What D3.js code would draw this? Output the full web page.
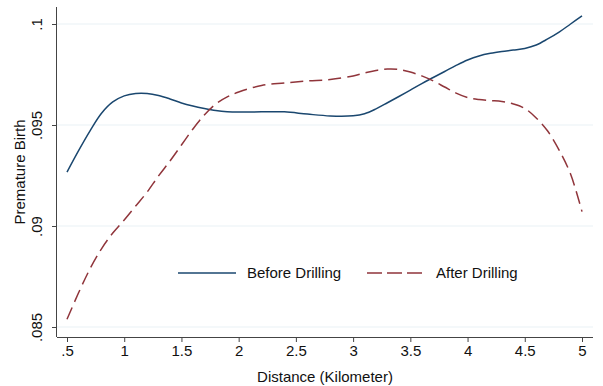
<!DOCTYPE html>
<html>
<head>
<meta charset="utf-8">
<script src="https://cdn.jsdelivr.net/npm/d3@7"></script>
<style>
  body { margin: 0; background: #fff; }
  text { font-family: "Liberation Sans", Arial, sans-serif; fill: #111; }
</style>
</head>
<body>
<div id="chart"></div>
<script>
// distance grid (km)
const distance = [0.5, 0.6, 0.7, 0.8, 0.9, 1.0, 1.1, 1.2, 1.3, 1.4, 1.5, 1.6, 1.7, 1.8, 1.9, 2.0,
  2.2, 2.4, 2.6, 2.8, 3.0, 3.1, 3.2, 3.3, 3.4, 3.5, 3.6, 3.7, 3.8, 3.9, 4.0,
  4.1, 4.2, 4.3, 4.4, 4.5, 4.6, 4.7, 4.8, 4.9, 5.0];

// premature birth rate, before drilling
const beforeDrilling = [0.09267, 0.09372, 0.09470, 0.09557, 0.09614, 0.09644, 0.09656, 0.09656, 0.09646, 0.09629,
  0.09609, 0.09594, 0.09582, 0.09572, 0.09566, 0.09564,
  0.09565, 0.09565, 0.09554, 0.09545, 0.09546, 0.09556, 0.09580, 0.09610, 0.09641, 0.09673,
  0.09705, 0.09735, 0.09765, 0.09795, 0.09822,
  0.09842, 0.09855, 0.09864, 0.09871, 0.09879, 0.09896, 0.09926, 0.09960, 0.10000, 0.10040];

// premature birth rate, after drilling
const afterDrilling = [0.08538, 0.08668, 0.08787, 0.08886, 0.08965, 0.09030, 0.09099, 0.09168, 0.09248, 0.09322,
  0.09401, 0.09480, 0.09550, 0.09604, 0.09639, 0.09663,
  0.09696, 0.09708, 0.09718, 0.09725, 0.09743, 0.09757, 0.09770, 0.09777, 0.09775, 0.09762,
  0.09743, 0.09718, 0.09688, 0.09658, 0.09636,
  0.09626, 0.09621, 0.09616, 0.09604, 0.09582, 0.09535, 0.09470, 0.09376, 0.09257, 0.09071];

const xTicks = [0.5, 1, 1.5, 2, 2.5, 3, 3.5, 4, 4.5, 5];
const xTickLabels = ['.5', '1', '1.5', '2', '2.5', '3', '3.5', '4', '4.5', '5'];
const yTicks = [0.085, 0.09, 0.095, 0.1];
const yTickLabels = ['.085', '.09', '.095', '.1'];
const seriesNames = ['Before Drilling', 'After Drilling'];

function draw () {
  const svgWidth = 603;
  const svgHeight = 386;
  const plot = { left: 57, right: 593, top: 7, bottom: 337 };
  const fontSize = 15;

  const svg = d3.select('#chart')
    .append('svg')
    .attr('width', svgWidth)
    .attr('height', svgHeight);

  const x = d3.scaleLinear().domain([0.5, 5]).range([67, 582]);
  const y = d3.scaleLinear().domain([0.085, 0.1]).range([327, 24]);

  // gridlines
  svg.append('g')
    .selectAll('line')
    .data(yTicks)
    .join('line')
    .attr('x1', plot.left)
    .attr('x2', plot.right)
    .attr('y1', d => y(d))
    .attr('y2', d => y(d))
    .attr('stroke', '#eaf2f6')
    .attr('stroke-width', 1.2);

  // x axis
  const xAxis = svg.append('g')
    .attr('transform', `translate(0, ${plot.bottom})`)
    .call(d3.axisBottom(x).tickValues(xTicks).tickSize(5).tickPadding(3)
      .tickFormat((d, i) => xTickLabels[i]));
  xAxis.select('.domain').attr('d', `M${plot.left},0.5H${plot.right}`);
  xAxis.selectAll('line, path').attr('stroke', '#444');
  xAxis.selectAll('text').attr('font-size', fontSize).attr('font-family', '"Liberation Sans", Arial, sans-serif');

  // y axis
  const yAxis = svg.append('g')
    .attr('transform', `translate(${plot.left}, 0)`)
    .call(d3.axisLeft(y).tickValues(yTicks).tickSize(5)
      .tickFormat((d, i) => yTickLabels[i]));
  yAxis.select('.domain').attr('d', `M-0.5,${plot.top}V${plot.bottom}`);
  yAxis.selectAll('line, path').attr('stroke', '#444');
  yAxis.selectAll('text')
    .attr('font-size', fontSize)
    .attr('font-family', '"Liberation Sans", Arial, sans-serif')
    .attr('x', 0)
    .attr('dy', 0)
    .attr('text-anchor', 'middle')
    .attr('transform', 'translate(-15, 0) rotate(-90)');

  // axis titles
  svg.append('text')
    .attr('x', (plot.left + plot.right) / 2)
    .attr('y', 382)
    .attr('text-anchor', 'middle')
    .attr('font-size', fontSize)
    .text('Distance (Kilometer)');

  svg.append('text')
    .attr('transform', `translate(25, ${(plot.top + plot.bottom) / 2}) rotate(-90)`)
    .attr('text-anchor', 'middle')
    .attr('font-size', fontSize)
    .text('Premature Birth');

  const line = d3.line()
    .x(d => x(d[0]))
    .y(d => y(d[1]))
    .curve(d3.curveCatmullRom.alpha(0.5));

  svg.append('path')
    .datum(distance.map((d, i) => [d, beforeDrilling[i]]))
    .attr('fill', 'none')
    .attr('stroke', '#1a476f')
    .attr('stroke-width', 1.5)
    .attr('d', line);

  svg.append('path')
    .datum(distance.map((d, i) => [d, afterDrilling[i]]))
    .attr('fill', 'none')
    .attr('stroke', '#90353b')
    .attr('stroke-width', 1.5)
    .attr('stroke-dasharray', '13,6')
    .attr('d', line);

  // legend
  const legend = svg.append('g');
  const legendItems = [
    { name: seriesNames[0], color: '#1a476f', dash: null, x0: 178 },
    { name: seriesNames[1], color: '#90353b', dash: '15,5', x0: 367 }
  ];
  legendItems.forEach(item => {
    legend.append('line')
      .attr('x1', item.x0)
      .attr('x2', item.x0 + 58)
      .attr('y1', 273)
      .attr('y2', 273)
      .attr('stroke', item.color)
      .attr('stroke-width', 1.5)
      .attr('stroke-dasharray', item.dash);
    legend.append('text')
      .attr('x', item.x0 + 69)
      .attr('y', 278)
      .attr('font-size', fontSize)
      .text(item.name);
  });
}

draw();
</script>
</body>
</html>
